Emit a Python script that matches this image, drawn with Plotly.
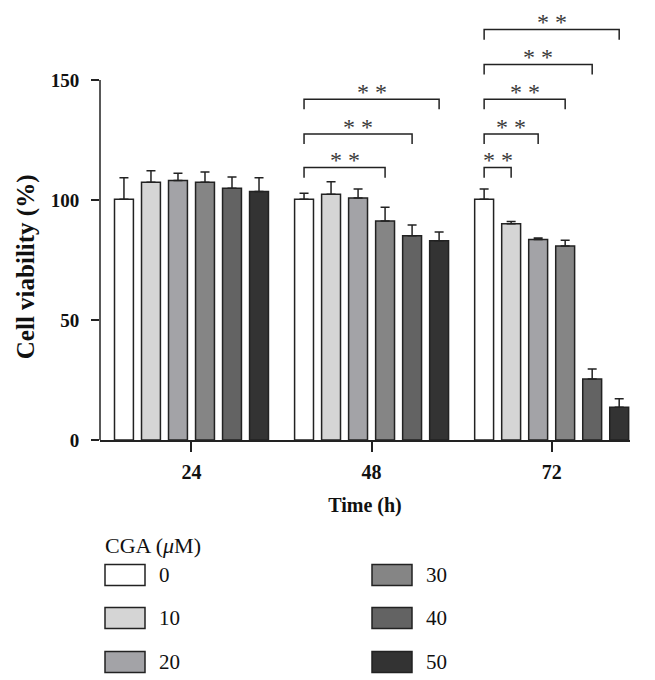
import plotly.graph_objects as go

# ---- data ----
times = ["24", "48", "72"]
doses = ["0", "10", "20", "30", "40", "50"]
viability = {
    "0":  [100.3, 100.3, 100.3],
    "10": [107.4, 102.4, 90.1],
    "20": [108.1, 100.8, 83.5],
    "30": [107.4, 91.2, 80.8],
    "40": [104.9, 85.1, 25.4],
    "50": [103.5, 83.0, 13.6],
}
errors = {
    "0":  [9.0, 2.5, 4.3],
    "10": [4.8, 5.2, 0.9],
    "20": [3.0, 3.8, 0.7],
    "30": [4.3, 5.8, 2.4],
    "40": [4.7, 4.5, 4.2],
    "50": [5.8, 3.7, 3.6],
}
colors = ["#ffffff", "#d5d5d5", "#a3a3a7", "#858585", "#636363", "#333333"]
# significance brackets: (time index, compared dose index, bracket height)
brackets = [
    (1, 3, 113.5), (1, 4, 127.5), (1, 5, 142.0),
    (2, 1, 113.5), (2, 2, 127.5), (2, 3, 142.0), (2, 4, 156.5), (2, 5, 171.0),
]
yticks = [0, 50, 100, 150]

BARGAP = 0.1
GROUPGAP = 0.3
SERIF = "Liberation Serif, Times New Roman, serif"
INK = "#222222"
TXT = "#111111"

W, H = 655, 680
ML, MR, MT, MB = 100, 25, 8, 240
pw, ph = W - ML - MR, H - MT - MB


def px2paper(px, py):
    return (px - ML) / pw, (H - MB - py) / ph


fig = go.Figure()
xs = list(range(len(times)))
for i, d in enumerate(doses):
    fig.add_trace(go.Bar(
        x=xs, y=viability[d], name=d,
        marker=dict(color=colors[i], line=dict(color=INK, width=1.5)),
        error_y=dict(type="data", symmetric=False, array=errors[d],
                     arrayminus=[0] * len(xs), color=INK, thickness=1.5, width=4.5),
        showlegend=False,
    ))

n = len(doses)
slot = (1 - BARGAP) / n


def bar_x(t, k):
    return t + (k - (n - 1) / 2) * slot


shapes = []
annotations = []
for t, k, h in brackets:
    x0 = bar_x(t, 0)
    x1 = bar_x(t, k)
    shapes.append(dict(type="path", xref="x", yref="y",
                       path=f"M {x0},{h-4.2} L {x0},{h} L {x1},{h} L {x1},{h-4.2}",
                       line=dict(color=INK, width=1.5)))
    annotations.append(dict(x=(x0 + x1) / 2, y=h + 3.0, xref="x", yref="y",
                            text="* *", showarrow=False, yanchor="middle",
                            font=dict(family=SERIF, size=24, color="#3a3a3a")))

# y axis line from 0 to 150
shapes.append(dict(type="line", xref="paper", yref="y", x0=0, x1=0, y0=0, y1=150,
                   line=dict(color=INK, width=1.5)))

# y axis title
tx, _ = px2paper(26, 0)
annotations.append(dict(x=tx, xref="paper", xanchor="center", y=72, yref="y",
                        yanchor="middle",
                        text="Cell viability (%)", textangle=-90, showarrow=False,
                        font=dict(family=SERIF, size=25, color=TXT, weight="bold")))

# manual legend
lx0, ly0 = px2paper(103, 545)
annotations.append(dict(x=lx0, y=ly0, xref="paper", yref="paper",
                        text="CGA (<i>μ</i>M)", showarrow=False, xanchor="left", yanchor="middle",
                        font=dict(family=SERIF, size=22, color=TXT)))

cols_x = [105, 372]
rows_y = [575, 618, 662]
for i, d in enumerate(doses):
    cx = cols_x[i // 3]
    cy = rows_y[i % 3]
    xa, ya = px2paper(cx, cy - 10.5)
    xb, yb = px2paper(cx + 40, cy + 10.5)
    shapes.append(dict(type="rect", xref="paper", yref="paper", x0=xa, x1=xb, y0=yb, y1=ya,
                       fillcolor=colors[i], line=dict(color=INK, width=1.5)))
    lx, ly = px2paper(cx + 52, cy)
    annotations.append(dict(x=lx, y=ly, xref="paper", yref="paper", text=d, showarrow=False,
                            xanchor="left", yanchor="middle",
                            font=dict(family=SERIF, size=21, color=TXT)))

fig.update_layout(
    width=W, height=H,
    margin=dict(l=ML, r=MR, t=MT, b=MB, autoexpand=False),
    paper_bgcolor="white", plot_bgcolor="white",
    barmode="group", bargap=BARGAP, bargroupgap=GROUPGAP,
    shapes=shapes, annotations=annotations,
    xaxis=dict(range=[-0.508, 2.435], tickvals=xs, ticktext=times,
               showline=True, linecolor=INK, linewidth=1.5,
               ticks="outside", ticklen=10, tickwidth=1.5, tickcolor=INK,
               ticklabelstandoff=3,
               tickfont=dict(family=SERIF, size=20, color=TXT, weight="bold"),
               showgrid=False, zeroline=False,
               title=dict(text="Time (h)", standoff=16,
                          font=dict(family=SERIF, size=20, color=TXT, weight="bold"))),
    yaxis=dict(range=[0, 180], tickvals=yticks,
               showline=False, ticks="outside", ticklen=8, tickwidth=1.5, tickcolor=INK,
               ticklabelstandoff=8,
               tickfont=dict(family=SERIF, size=19, color=TXT, weight="bold"),
               showgrid=False, zeroline=False),
)

fig.write_html("out.html", config={"displayModeBar": False},
               post_script="document.body.style.margin='0';")
